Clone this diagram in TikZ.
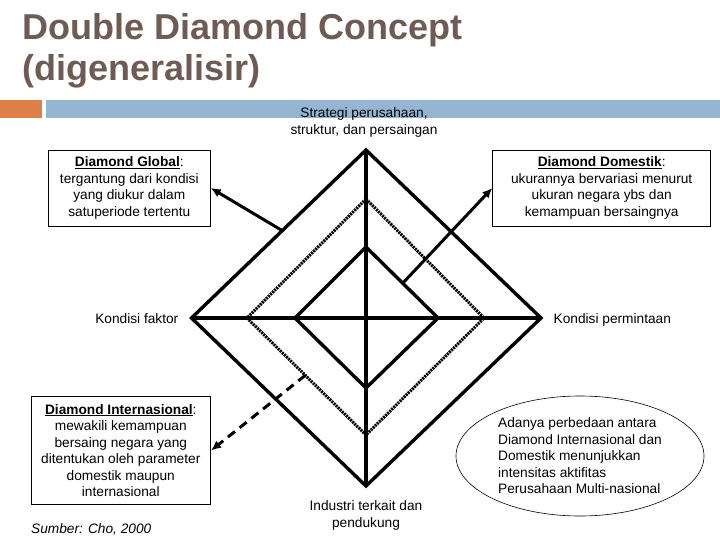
\documentclass[tikz,border=0pt]{standalone}
\usepackage{fontspec}
\setmainfont{Liberation Sans}
\usetikzlibrary{arrows.meta,shapes.geometric,calc}
\definecolor{titlec}{RGB}{110,92,84}
\definecolor{orangec}{RGB}{221,128,71}
\definecolor{bluec}{RGB}{148,182,210}
\begin{document}
\begin{tikzpicture}[x=1pt,y=-1pt,
  body/.style={font=\fontsize{13.7}{16.5}\selectfont, inner sep=0pt},
  infobox/.style={draw, line width=0.8pt, body, align=center},
  diag/.style={line width=3.4pt, line join=miter},
  dotline/.style={line width=3pt, dash pattern=on 2pt off 0.9pt},
  arr/.style={line width=3pt, -{Latex[length=10pt,width=9pt]}},
  dasharr/.style={arr, dash pattern=on 9pt off 6pt}
]
\useasboundingbox (0,0) rectangle (720,540);
% title and bars
\node[anchor=base west, inner sep=0pt, align=left, text=titlec,
      font=\fontsize{36}{41.5}\selectfont\bfseries] (title) at (22.5,81)
      {Double Diamond Concept\\(digeneralisir)};
\fill[orangec] (0,100) rectangle (42,118);
\fill[bluec] (46,100) rectangle (720,118);
% diamond coordinates
\coordinate (oT) at (366,150); \coordinate (oB) at (366,486);
\coordinate (oL) at (191.5,318); \coordinate (oR) at (541,318);
\coordinate (mT) at (366,199); \coordinate (mB) at (366,435);
\coordinate (mL) at (247,318); \coordinate (mR) at (484,318);
\coordinate (iT) at (366,247); \coordinate (iB) at (366,388);
\coordinate (iL) at (295,318); \coordinate (iR) at (438,318);
\draw[dotline] (mT) -- (mR) -- (mB) -- (mL) -- cycle;
\draw[diag] (oT) -- (oR) -- (oB) -- (oL) -- cycle;
\draw[diag] (iT) -- (iR) -- (iB) -- (iL) -- cycle;
\draw[diag] (oT) -- (oB);
\draw[diag] (oL) -- (oR);
% labels
\node[body, align=center, anchor=base] (strat) at (364,134.5)
  {Strategi perusahaan,\\struktur, dan persaingan};
\node[body, anchor=base east] (faktor) at (178.5,323) {Kondisi faktor};
\node[body, anchor=base west] (minta) at (553.5,323) {Kondisi permintaan};
\node[body, align=center, anchor=base] (ind) at (366,527)
  {Industri terkait dan\\pendukung};
% boxes
\node[infobox, minimum width=162pt, minimum height=76pt] (glob) at (129.3,188)
  {\underline{\textbf{Diamond Global}}:\\tergantung dari kondisi\\yang diukur dalam\\satuperiode tertentu};
\node[infobox, minimum width=218pt, minimum height=76pt] (dom) at (601.7,188)
  {\underline{\textbf{Diamond Domestik}}:\\ukurannya bervariasi menurut\\ukuran negara ybs dan\\kemampuan bersaingnya};
\node[infobox, minimum width=179.7pt, minimum height=107.6pt] (intl) at (120.8,450.5)
  {\underline{\textbf{Diamond Internasional}}:\\mewakili kemampuan\\bersaing negara yang\\ditentukan oleh parameter\\domestik maupun\\internasional};
\node[body, anchor=base west, font=\fontsize{13.7}{16.5}\selectfont\itshape] (src) at (31,533)
  {Sumber: Cho, 2000};
\node[draw, ellipse, line width=0.6pt, body, align=left,
      minimum width=248pt, minimum height=120pt] (ell) at (580,456)
  {Adanya perbedaan antara\\Diamond Internasional dan\\Domestik menunjukkan\\intensitas aktifitas\\Perusahaan Multi-nasional};
% arrows
\coordinate (gs) at ($(oL)!0.52!(oT)$);
\coordinate (ds) at ($(iT)!0.51!(iR)$);
\coordinate (is) at ($(mL)!0.49!(mB)$);
\draw[arr] (gs) -- (glob.east);
\draw[arr] (ds) -- (dom.west);
\draw[dasharr] (is) -- (intl.east);
\end{tikzpicture}
\end{document}
